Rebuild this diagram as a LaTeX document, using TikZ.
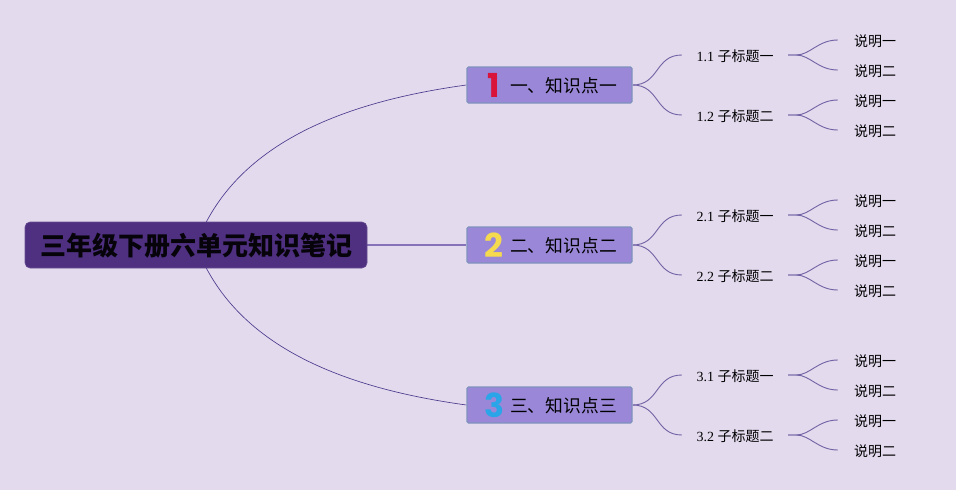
\documentclass[tikz,border=0pt]{standalone}
\usepackage{fontspec}
\setmainfont{Liberation Serif}
\newfontfamily\cjk{Noto Sans CJK SC}
\newfontfamily\digitfont{Poppins}[BoldFont={Poppins Bold}]
\usetikzlibrary{backgrounds,positioning}
\definecolor{bgc}{HTML}{E3DAEE}
\definecolor{rootc}{HTML}{4E2F80}
\definecolor{topicc}{HTML}{9A87D8}
\definecolor{topicb}{HTML}{7F93BC}
\definecolor{linec}{HTML}{4A3A8C}
\definecolor{thickc}{HTML}{8572B8}
\definecolor{dred}{HTML}{D9143C}
\definecolor{dyel}{HTML}{F5D94F}
\definecolor{dblu}{HTML}{2AA5E8}
\tikzset{
 rootbox/.style={fill=rootc,draw=rootc!85!white,line width=.6pt,rounded corners=5pt,minimum width=342pt,minimum height=46pt,inner sep=0pt,font=\fontsize{26}{26}\selectfont\cjk\bfseries,text=black!92!rootc},
 topicbox/.style={fill=topicc,draw=topicb,line width=1.2pt,rounded corners=1.5pt,minimum width=165pt,minimum height=36pt,inner sep=0pt,font=\fontsize{17.8}{18}\selectfont\cjk,text=black},
 subbox/.style={minimum width=106pt,minimum height=24pt,inner sep=0pt,font=\fontsize{14}{14}\selectfont,text=black},
 leafbox/.style={minimum width=74pt,minimum height=24pt,inner sep=0pt,font=\fontsize{14}{14}\selectfont\cjk,text=black},
 digitmark/.style={inner sep=0pt,font=\fontsize{33}{33}\selectfont\digitfont\bfseries},
 thin link/.style={draw=linec,line width=.65pt},
 soft link/.style={draw=linec!75!bgc,line width=.9pt},
 thick link/.style={draw=thickc,line width=1.3pt}
}
\newcommand{\zh}[1]{{\cjk #1}}
\newcommand{\dn}[1]{\raisebox{-1pt}[\height][\depth]{#1}}
\newcommand{\twig}[2]{\draw[soft link] (#1.east) -- ++(8pt,0pt) .. controls +(14pt,0pt) and +(-20pt,0pt) .. (#2.west);}
\newcommand{\limb}[2]{\draw[soft link] (#1.east) .. controls +(27pt,0pt) and +(-27pt,0pt) .. (#2.west);}
\begin{document}
\begin{tikzpicture}[x=1pt,y=-1pt]
\useasboundingbox (0,0) rectangle (956,490);
\node[rootbox] (root) at (196,245) {\dn{三年级下册六单元知识笔记}};
% topics
\node[topicbox] (t1) at (549.5,85) {\dn{\hspace*{28pt}一、知识点一}};
\node[topicbox] (t2) at (549.5,245) {\dn{\hspace*{28pt}二、知识点二}};
\node[topicbox] (t3) at (549.5,405) {\dn{\hspace*{28pt}三、知识点三}};
\node[digitmark,text=dred] (d1) at (494,85) {1};
\node[digitmark,text=dyel] (d2) at (494,245) {2};
\node[digitmark,text=dblu] (d3) at (494,405) {3};
% subtopics
\node[subbox] (s11) at (735,55) {\dn{1.1 \zh{子标题一}}};
\node[subbox] (s12) at (735,115) {\dn{1.2 \zh{子标题二}}};
\node[subbox] (s21) at (735,215) {\dn{2.1 \zh{子标题一}}};
\node[subbox] (s22) at (735,275) {\dn{2.2 \zh{子标题二}}};
\node[subbox] (s31) at (735,375) {\dn{3.1 \zh{子标题一}}};
\node[subbox] (s32) at (735,435) {\dn{3.2 \zh{子标题二}}};
% leaves
\foreach \n/\y in {s11a/40,s12a/100,s21a/200,s22a/260,s31a/360,s32a/420}
  \node[leafbox] (\n) at (875,\y) {\dn{说明一}};
\foreach \n/\y in {s11b/70,s12b/130,s21b/230,s22b/290,s31b/390,s32b/450}
  \node[leafbox] (\n) at (875,\y) {\dn{说明二}};
\begin{scope}[on background layer]
\fill[bgc] (0,0) rectangle (956,490);
\draw[thin link] (root.center) .. controls (232,148) and (335,103) .. (t1.west);
\draw[thick link] (root.east) -- (t2.west);
\draw[thin link] (root.center) .. controls (232,342) and (335,387) .. (t3.west);
\limb{t1}{s11}\limb{t1}{s12}
\limb{t2}{s21}\limb{t2}{s22}
\limb{t3}{s31}\limb{t3}{s32}
\twig{s11}{s11a}\twig{s11}{s11b}
\twig{s12}{s12a}\twig{s12}{s12b}
\twig{s21}{s21a}\twig{s21}{s21b}
\twig{s22}{s22a}\twig{s22}{s22b}
\twig{s31}{s31a}\twig{s31}{s31b}
\twig{s32}{s32a}\twig{s32}{s32b}
\end{scope}
\end{tikzpicture}
\end{document}
